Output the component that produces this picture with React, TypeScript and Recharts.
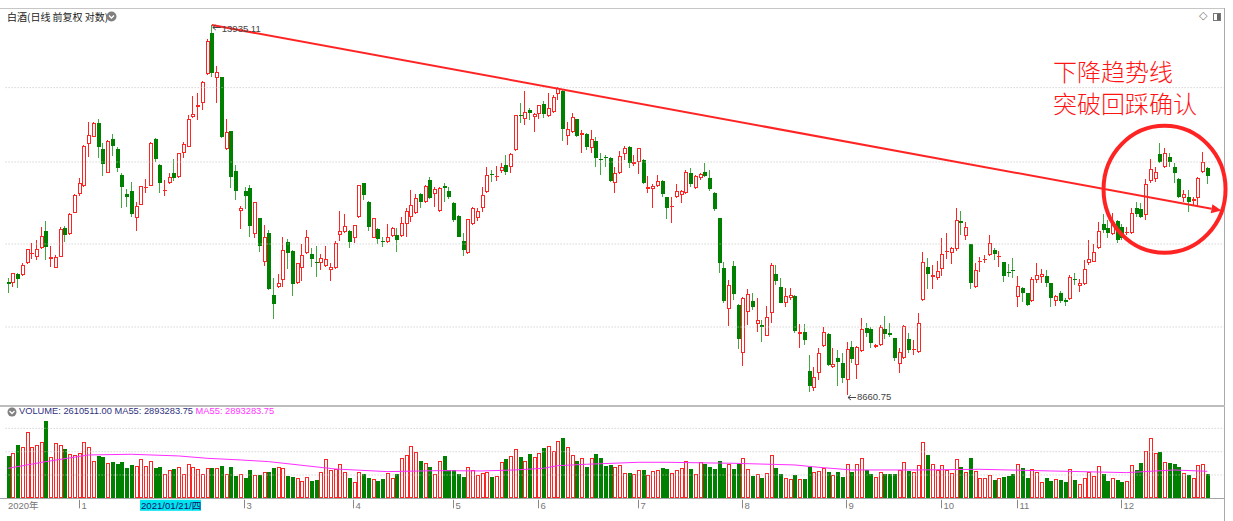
import React from 'react';
import { ComposedChart, Bar, Line, XAxis, YAxis, ReferenceLine, ReferenceDot } from 'recharts';

// ---------- data ----------
// daily candles [open, high, low, close]
const ohlc: number[][] = [
  [10011,10059,9875,9986],[10003,10132,9951,10124],[10115,10124,9930,10055],[10102,10264,10089,10233],[10255,10450,10242,10441],
  [10378,10531,10308,10396],[10334,10567,10299,10441],[10455,10741,10441,10621],[10690,10833,10299,10477],[10308,10486,10202,10343],
  [10198,10365,10189,10343],[10343,10741,10334,10713],[10727,10759,10545,10630],[10644,10936,10635,10922],[10945,11207,10936,11198],
  [11207,11450,11188,11377],[11333,11937,11308,11927],[11952,12305,11764,12091],[12070,12305,12060,12279],[12279,12347,11749,11916],
  [11875,11968,11475,11648],[11524,12019,11514,12009],[12029,12112,11774,11932],[11886,11916,11534,11598],[11485,11514,11007,11318],
  [11207,11279,11021,11164],[11255,11392,10889,10922],[10865,11100,10690,11039],[11053,11328,11049,11328],[11294,11426,11222,11308],
  [11333,11988,11328,11978],[12039,12044,11689,11734],[11638,11648,11231,11367],[11260,11416,11188,11270],[11377,11514,11357,11465],
  [11519,11724,11406,11441],[11455,11824,11445,11814],[11824,11993,11739,11952],[11916,12411,11906,12342],[12374,12719,12358,12422],
  [12535,12763,12331,12567],[12599,12967,12492,12956],[13079,13680,13067,13657],[13798,13935.11,13040,13095],[13012,13225,12599,13112],
  [13029,13040,12044,12070],[11875,12342,11865,12148],[12158,12165,11294,11465],[11548,11633,11125,11260],[10969,11039,10713,11016],
  [11255,11318,10992,11188],[11304,11338,10612,10759],[10644,11100,10590,11096],[10865,10875,10410,10486],[10268,10773,10220,10603],
  [10658,10704,9909,9917],[9846,10059,9545,9732],[9951,10115,9930,10003],[10037,10603,9951,10432],[10545,10576,10176,10387],
  [10423,10432,9833,9986],[9994,10264,9986,10255],[10189,10513,10029,10365],[10387,10704,10378,10612],[10374,10455,10202,10308],
  [10268,10486,10072,10255],[10264,10378,10167,10321],[10224,10486,10211,10308],[10167,10255,10029,10202],[10189,10554,10180,10522],
  [10635,10974,10554,10690],[10681,10927,10658,10764],[10695,10704,10455,10540],[10599,10780,10531,10773],[10880,11347,10870,11338],
  [11367,11377,11125,11198],[11100,11111,10690,10741],[10599,10875,10590,10865],[10713,10727,10513,10581],[10558,10603,10468,10536],
  [10545,10787,10522,10603],[10626,10741,10612,10727],[10635,10727,10410,10567],[10621,10880,10612,10796],[10787,11007,10612,10974],
  [10889,11270,10819,11049],[10936,11212,10927,11149],[11207,11222,11007,11091],[11091,11343,11087,11328],[11416,11465,11140,11149],
  [11207,11308,11030,11289],[10969,11318,10960,11304],[11328,11377,11100,11294],[11255,11318,11140,11164],[11087,11096,10819,10842],
  [10898,10912,10603,10612],[10554,10658,10352,10432],[10387,10856,10378,10851],[10787,11030,10773,11016],[10865,11007,10828,10969],
  [11016,11308,10960,11198],[11236,11613,11222,11485],[11499,11563,11392,11485],[11470,11628,11401,11480],[11548,11663,11524,11613],
  [11638,11789,11490,11539],[11613,11824,11524,11799],[11865,12417,11855,12406],[12417,12599,12279,12401],[12347,12801,12253,12465],
  [12492,12519,12331,12449],[12374,12438,12148,12422],[12433,12572,12347,12567],[12583,12643,12358,12428],[12401,12774,12385,12519],
  [12454,12736,12438,12708],[12752,12861,12654,12845],[12801,12818,12009,12185],[12081,12295,11942,12185],[12148,12438,12122,12385],
  [12342,12347,12060,12081],[12101,12174,11814,12122],[12112,12122,11865,11916],[11891,12174,11814,12034],[12009,12060,11603,11749],
  [11734,11824,11485,11714],[11764,11789,11613,11754],[11749,11759,11392,11401],[11367,11613,11231,11524],[11514,11850,11504,11774],
  [11804,11927,11714,11891],[11906,11927,11598,11663],[11648,11789,11628,11678],[11678,11901,11504,11891],[11714,11724,11357,11367],
  [11279,11480,11222,11318],[11284,11352,11016,11333],[11333,11490,11318,11406],[11401,11416,11173,11207],[11164,11173,10856,11016],
  [11030,11173,10796,11039],[11164,11357,11149,11260],[11198,11270,11087,11255],[11222,11563,11212,11529],[11514,11588,11318,11357],
  [11304,11490,11279,11475],[11441,11524,11416,11504],[11529,11673,11465,11475],[11450,11563,11255,11279],[11231,11246,10969,10997],
  [10865,10875,10124,10264],[10198,10273,9740,9770],[9670,10037,9460,9968],[10220,10290,9782,9854],[9719,9728,9185,9303],
  [9133,9815,8989,9803],[9628,9917,9472,9854],[9770,9875,9657,9699],[9480,9803,9392,9533],[9472,9533,9272,9444],
  [9343,9707,9339,9566],[9616,10255,9493,10233],[10111,10233,9973,10029],[9943,10068,9740,9748],[9748,9930,9699,9833],
  [9811,9930,9782,9841],[9837,9846,9372,9404],[9359,9485,9200,9384],[9392,9485,9232,9291],[8928,9114,8690,8757],
  [8738,8978,8705,8863],[8909,9200,8825,9133],[9224,9444,9212,9392],[9363,9372,8985,9000],[8970,9192,8958,9005],
  [9075,9172,8757,9036],[9024,9133,8787,8852],[8825,9272,8660.75,9180],[9204,9284,9017,9067],[8997,9220,8832,9212],
  [9165,9554,9153,9420],[9432,9501,9331,9372],[9420,9444,9200,9252],[9204,9244,9192,9232],[9232,9472,9220,9444],
  [9420,9583,9299,9363],[9380,9493,9331,9347],[9311,9319,9044,9083],[9009,9192,8909,9153],[9075,9472,9063,9464],
  [9299,9372,9141,9172],[9172,9291,9114,9188],[9145,9616,9141,9493],[9782,10401,9774,10268],[10211,10321,9917,10111],
  [10080,10233,9917,10098],[10059,10290,10037,10158],[10176,10590,10089,10374],[10401,10658,10308,10423],[10387,10477,10246,10455],
  [10441,11007,10423,10842],[10828,10974,10635,10801],[10621,10819,10567,10741],[10508,10513,9917,9994],[9943,10255,9930,10167],
  [10273,10343,10145,10290],[10299,10365,10255,10312],[10365,10635,10352,10522],[10432,10459,10299,10374],[10339,10419,10211,10352],
  [10268,10277,10016,10093],[10141,10242,10080,10128],[10167,10321,10059,10154],[9824,10089,9699,9964],[9930,9951,9761,9875],
  [9866,9875,9707,9719],[9774,10080,9761,10046],[10037,10264,9994,10102],[10080,10176,9994,10111],[10089,10167,9951,9994],
  [9994,10003,9699,9803],[9774,9846,9711,9833],[9875,9900,9740,9770],[9782,9803,9707,9761],[9791,10098,9782,10080],
  [10046,10124,9973,10037],[9964,10046,9888,10003],[9986,10299,9973,10176],[10255,10567,10233,10308],[10277,10513,10268,10401],
  [10455,10819,10441,10690],[10787,10927,10667,10704],[10727,10842,10590,10658],[10649,10936,10635,10819],[10828,10842,10531,10567],
  [10750,10787,10567,10590],[10658,10750,10635,10681],[10658,11016,10649,10945],[11007,11100,10889,10927],[10992,11087,10865,10889],
  [10912,11426,10842,11352],[11406,11724,11367,11573],[11431,11613,11392,11539],[11799,11978,11663,11689],[11613,11891,11588,11814],
  [11764,11824,11613,11678],[11613,11663,11367,11524],[11436,11450,11149,11173],[11159,11270,11100,11212],[11164,11270,10960,11100],
  [11111,11173,11053,11135],[11159,11465,11030,11450],[11529,11840,11514,11689],[11598,11613,11352,11475],
];

// daily volume
const volume: number[] = [
  4543000,4900000,5723000,5473000,7082000,5544000,5723000,6081000,8299000,4471000,
  5902000,5723000,5258000,4722000,4650000,4900000,6081000,5544000,4042000,4543000,
  4400000,3827000,3935000,3649000,3935000,3219000,3577000,3470000,4185000,3470000,
  4042000,3219000,3327000,2611000,3040000,3112000,3327000,2611000,3649000,3327000,
  3112000,2611000,3219000,3219000,3219000,3505000,2611000,3327000,2432000,2611000,
  2218000,3040000,2504000,2504000,2862000,2862000,3219000,3398000,3219000,2432000,
  2325000,2146000,1860000,2325000,1860000,1967000,2862000,4185000,3040000,3112000,
  3649000,2862000,2218000,1789000,2790000,2611000,2146000,2039000,1860000,2039000,
  2754000,2146000,2611000,4364000,4650000,5652000,5008000,4006000,3827000,3327000,
  2575000,4006000,4579000,3040000,3040000,2575000,2325000,3398000,3040000,2504000,
  2683000,2862000,2254000,2397000,3935000,4185000,4543000,5258000,4471000,4006000,
  4757000,4400000,4900000,5437000,5616000,5079000,6152000,6510000,5473000,4650000,
  4042000,4292000,3398000,4292000,4757000,4292000,3505000,3577000,3327000,3541000,
  2683000,2683000,2611000,3040000,3040000,2504000,2933000,3040000,3219000,3148000,
  2683000,3040000,3219000,4042000,3148000,2575000,3935000,3649000,3398000,3148000,
  4042000,3219000,3684000,3148000,3649000,4292000,3112000,2397000,2611000,2218000,
  2683000,4650000,3219000,2575000,2218000,2039000,2468000,2039000,2039000,3398000,
  2790000,2933000,3219000,2862000,2504000,2862000,2325000,3684000,2862000,3684000,
  4292000,3040000,2575000,2254000,2790000,2575000,2611000,2575000,3040000,3935000,
  2969000,2790000,3577000,6081000,4650000,3684000,3040000,3577000,3040000,2754000,
  4185000,3327000,2790000,4292000,2933000,2146000,2146000,2504000,1967000,2218000,
  2325000,2432000,2575000,3684000,3291000,2218000,3112000,2862000,1789000,2218000,
  1896000,2039000,1967000,1789000,3112000,1967000,1538000,2146000,2790000,2397000,
  3470000,2611000,1896000,2146000,1967000,1789000,1896000,3541000,3040000,3827000,
  5079000,6439000,4900000,4936000,3935000,3827000,3684000,3327000,2683000,2504000,
  2218000,3577000,3684000,2610511,
];

// MA55 of volume, read at points along the line [candle index, value]
const ma55Points: number[][] = [
  [0,3219000],[8,3935000],[17,4650000],[26,4722000],[36,4543000],[42,4292000],[49,4114000],[55,3935000],
  [69,3148000],[80,2862000],[91,2969000],[100,2933000],[107,3040000],[113,3219000],[116,3505000],[122,3649000],
  [133,3863000],[139,3863000],[153,3756000],[166,3577000],[171,3327000],[178,3040000],[192,3040000],[205,3112000],
  [220,2933000],[236,2754000],[246,3040000],[253,2893283.75],
];

// x-axis labels: first candle of each month
const monthTicks: { index: number; label: string }[] = [
  { index: 0, label: '2020年' }, { index: 15, label: '1' }, { index: 50, label: '3' }, { index: 73, label: '4' },
  { index: 94, label: '5' }, { index: 112, label: '6' }, { index: 133, label: '7' }, { index: 155, label: '8' },
  { index: 177, label: '9' }, { index: 197, label: '10' }, { index: 213, label: '11' }, { index: 235, label: '12' },
];
const cursorTick = { index: 28, label: '2021/01/21/四' };

const extraSlots = 3;
const peak = { index: 43, value: 13935.11 };
const trough = { index: 177, value: 8660.75 };
const trendEnd = { index: 256, value: 10975 };
const circleCenter = { index: 244, value: 11281 };
const priceDomain = [8601, 14025];
const priceGrid = [12856, 11683, 10513, 9448];
const volumeDomain = [0, 9000000];
const volumeGrid = [2500000, 5000000, 7500000];
const lastVolume = '2610511.00';
const lastMA = '2893283.75';

// ---------- build table ----------
const maMap = new Map<number, number>(ma55Points.map((p) => [p[0], p[1]] as [number, number]));
const rows = Array.from({ length: ohlc.length + extraSlots }, (_, i) => {
  const c = ohlc[i];
  const ma = maMap.has(i) ? maMap.get(i)! : null;
  return c
    ? { idx: i, open: c[0], high: c[1], low: c[2], close: c[3], vol: volume[i], ma }
    : { idx: i, ma };
});

const RED = '#ff2424';
const GREEN = '#008000';
const GREEN_WICK = '#43a843';
const MARGIN_L = 5.6;
const MARGIN_R = 9.2;

function Candle(props: any) {
  const { x, y, width, height, payload } = props;
  if (!payload || payload.open == null) return null;
  const top = Math.min(y, y + height);
  const bot = Math.max(y, y + height);
  const lh = Math.log(payload.high);
  const ll = Math.log(payload.low);
  const yOf = (v: number) => (lh === ll ? top : top + ((lh - Math.log(v)) / (lh - ll)) * (bot - top));
  const X = Math.floor(x + width / 2) + 0.5;
  const up = payload.close >= payload.open;
  const yo = yOf(payload.open);
  const yc = yOf(payload.close);
  const b1 = Math.round(Math.min(yo, yc));
  const b2 = Math.round(Math.max(yo, yc));
  const hTop = Math.round(top);
  const hBot = Math.round(bot);
  if (up) {
    return (
      <g>
        <line x1={X} x2={X} y1={hTop} y2={hBot} stroke={RED} strokeWidth={1} />
        {b2 - b1 >= 2 ? (
          <rect x={X - 1} y={b1 + 0.5} width={3} height={b2 - b1 - 1} fill="#fff" stroke={RED} strokeWidth={1} />
        ) : (
          <line x1={X - 1.5} x2={X + 2.5} y1={b1 + 0.5} y2={b1 + 0.5} stroke={RED} strokeWidth={1} />
        )}
      </g>
    );
  }
  return (
    <g>
      <line x1={X} x2={X} y1={hTop} y2={hBot} stroke={GREEN_WICK} strokeWidth={1} />
      <rect x={X - 1.5} y={b1} width={4} height={Math.max(b2 - b1, 1)} fill={GREEN} />
    </g>
  );
}

function VolBar(props: any) {
  const { x, y, width, height, payload } = props;
  if (!payload || payload.vol == null) return null;
  const X = Math.floor(x + width / 2) + 0.5;
  const t = Math.round(y);
  const b = Math.round(y + height);
  const up = payload.close >= payload.open;
  if (up) {
    return <rect x={X - 1} y={t + 0.5} width={3} height={Math.max(b - t - 1, 0)} fill="#fff" stroke={RED} strokeWidth={1} />;
  }
  return <rect x={X - 1.5} y={t} width={4} height={Math.max(b - t, 1)} fill={GREEN} />;
}

function TrendArrow(p: any) {
  const { x1, y1, x2, y2 } = p;
  const ang = Math.atan2(y2 - y1, x2 - x1);
  const L = 10;
  const Wd = 4.5;
  const bx = x2 - L * Math.cos(ang);
  const by = y2 - L * Math.sin(ang);
  const nx = -Math.sin(ang);
  const ny = Math.cos(ang);
  return (
    <g>
      <line x1={x1} y1={y1} x2={bx} y2={by} stroke={RED} strokeWidth={2} />
      <polygon points={`${x2},${y2} ${bx + nx * Wd},${by + ny * Wd} ${bx - nx * Wd},${by - ny * Wd}`} fill={RED} />
    </g>
  );
}

function CircleMark(p: any) {
  return <ellipse cx={p.cx} cy={p.cy} rx={61} ry={63.5} fill="none" stroke={RED} strokeWidth={4} />;
}

function makeExtremeLabel(text: string, dy: number) {
  return (p: any) => {
    const { cx, cy } = p;
    const ay = Math.round(cy + 2) + 0.5;
    return (
      <g>
        <line x1={cx + 1} y1={ay} x2={cx + 9} y2={ay} stroke="#444" strokeWidth={1} />
        <polyline points={`${cx + 4},${ay - 2.5} ${cx + 1},${ay} ${cx + 4},${ay + 2.5}`} fill="none" stroke="#444" strokeWidth={1} />
        <text x={cx + 10} y={cy + dy} fontSize={9.5} fill="#444" fontFamily="'Liberation Sans', Arial, sans-serif">{text}</text>
      </g>
    );
  };
}

const tickLabelMap = new Map<number, string>(monthTicks.map((m) => [m.index, m.label] as [number, string]));

function XTick(p: any) {
  const i = Number(p.payload.value);
  const X = Math.floor(p.x) + 0.5;
  const y0 = p.y;
  if (i === cursorTick.index) {
    return (
      <g>
        <rect x={Math.floor(p.x)} y={y0 + 1.5} width={61} height={11} fill="#00e4ef" />
        <text x={Math.floor(p.x) + 1} y={y0 + 10.5} fontSize={9.6} fill="#10106a" fontFamily="'Liberation Sans', 'Noto Sans CJK SC', sans-serif">{cursorTick.label}</text>
      </g>
    );
  }
  const label = tickLabelMap.get(i) || '';
  if (i === 0) {
    return <text x={p.x} y={y0 + 10.5} fontSize={9.5} fill="#777" fontFamily="'Liberation Sans', 'Noto Sans CJK SC', sans-serif">{label}</text>;
  }
  return (
    <g>
      <line x1={X} x2={X} y1={y0 + 1.5} y2={y0 + 10} stroke="#888" strokeWidth={1} />
      <text x={X + 2} y={y0 + 10.5} fontSize={9.5} fill="#777" fontFamily="'Liberation Sans', 'Noto Sans CJK SC', sans-serif">{label}</text>
    </g>
  );
}

const xTicks = [...monthTicks.map((m) => m.index), cursorTick.index].sort((a, b) => a - b);

function Chevron({ left, top, r }: { left: number; top: number; r: number }) {
  return (
    <svg style={{ position: 'absolute', left, top }} width={r * 2 + 1} height={r * 2 + 1}>
      <circle cx={r + 0.5} cy={r + 0.5} r={r} fill="#808080" />
      <polyline points={`${r - 2},${r - 0.5} ${r + 0.5},${r + 2} ${r + 3},${r - 0.5}`} fill="none" stroke="#fff" strokeWidth={1.3} />
    </svg>
  );
}

export default function App() {
  return (
    <div style={{ position: 'absolute', left: 0, top: 0, width: 1233, height: 521, background: '#fff', overflow: 'hidden' }}>
      {/* frame */}
      <div style={{ position: 'absolute', left: 0, top: 8, width: 1225, height: 1, background: '#c6c6c6' }} />
      <div style={{ position: 'absolute', left: 1224, top: 8, width: 1, height: 513, background: '#a9a9a9' }} />
      <div style={{ position: 'absolute', left: 0, top: 405, width: 1225, height: 2, background: '#bdbdbd' }} />
      <div style={{ position: 'absolute', left: 0, top: 498, width: 1225, height: 1, background: '#a4a4a4' }} />

      {/* price panel */}
      <div style={{ position: 'absolute', left: 0, top: 0 }}>
        <ComposedChart width={1233} height={405} data={rows} margin={{ top: 20, right: MARGIN_R, bottom: 5, left: MARGIN_L }} style={{ overflow: 'visible' }}>
          <XAxis dataKey="idx" type="category" hide />
          <YAxis hide type="number" scale="log" domain={priceDomain} allowDataOverflow />
          {priceGrid.map((v) => (
            <ReferenceLine key={v} y={v} stroke="#c2c2c2" strokeDasharray="1 2" />
          ))}
          <Bar dataKey={(d: any) => (d.high != null ? [d.low, d.high] : null)} shape={Candle} isAnimationActive={false} />
          <ReferenceLine
            segment={[{ x: peak.index, y: peak.value }, { x: trendEnd.index, y: trendEnd.value }]}
            stroke={RED}
            strokeWidth={2}
            shape={TrendArrow}
            ifOverflow="visible"
          />
          <ReferenceDot x={circleCenter.index} y={circleCenter.value} r={0} shape={CircleMark} ifOverflow="visible" />
          <ReferenceDot x={peak.index} y={peak.value} r={0} shape={makeExtremeLabel(peak.value.toFixed(2), 7.5)} ifOverflow="visible" />
          <ReferenceDot x={trough.index} y={trough.value} r={0} shape={makeExtremeLabel(trough.value.toFixed(2), 5.5)} ifOverflow="visible" />
        </ComposedChart>
      </div>

      {/* volume panel */}
      <div style={{ position: 'absolute', left: 0, top: 400 }}>
        <ComposedChart width={1233} height={121} data={rows} margin={{ top: 14.4, right: MARGIN_R, bottom: 0, left: MARGIN_L }}>
          <XAxis
            dataKey="idx"
            type="category"
            height={22.7}
            ticks={xTicks}
            interval={0}
            tick={XTick}
            tickLine={false}
            axisLine={false}
            tickSize={0}
            tickMargin={0}
          />
          <YAxis hide type="number" domain={volumeDomain} allowDataOverflow />
          {volumeGrid.map((v) => (
            <ReferenceLine key={v} y={v} stroke="#c2c2c2" strokeDasharray="1 2" />
          ))}
          <Bar dataKey="vol" shape={VolBar} isAnimationActive={false} />
          <Line dataKey="ma" stroke="#ff2cff" strokeWidth={1} dot={false} connectNulls isAnimationActive={false} />
        </ComposedChart>
      </div>

      {/* titles */}
      <div style={{ position: 'absolute', left: 7, top: 11, fontSize: 10, lineHeight: '11px', color: '#222', fontFamily: "'Noto Sans CJK SC', sans-serif", whiteSpace: 'nowrap' }}>
        白酒(日线 前复权 对数)
      </div>
      <Chevron left={106} top={11} r={5} />
      <div style={{ position: 'absolute', left: 1199, top: 10, fontSize: 11, lineHeight: '12px', color: '#777', fontFamily: "'DejaVu Sans', sans-serif" }}>◇</div>
      <div style={{ position: 'absolute', left: 1213, top: 13, width: 8, height: 8, border: '1px solid #777', boxSizing: 'border-box' }}>
        <div style={{ position: 'absolute', right: 0, top: 0, width: 3, height: 6, background: '#666' }} />
      </div>

      <Chevron left={7} top={407} r={4.5} />
      <div style={{ position: 'absolute', left: 19, top: 406, fontSize: 9.3, lineHeight: '11px', fontFamily: "'Liberation Sans', Arial, sans-serif", whiteSpace: 'nowrap' }}>
        <span style={{ color: '#30307e' }}>{`VOLUME: ${lastVolume} MA55: ${lastMA}`}</span>
        <span style={{ color: '#ff33ff' }}>{` MA55: ${lastMA}`}</span>
      </div>

      {/* annotation */}
      <div style={{ position: 'absolute', left: 1053, top: 58, fontSize: 24, lineHeight: '26px', color: '#ff1414', fontFamily: "'Noto Sans CJK SC', sans-serif", fontWeight: 300, whiteSpace: 'nowrap' }}>
        下降趋势线
      </div>
      <div style={{ position: 'absolute', left: 1053, top: 90, fontSize: 24, lineHeight: '26px', color: '#ff1414', fontFamily: "'Noto Sans CJK SC', sans-serif", fontWeight: 300, whiteSpace: 'nowrap' }}>
        突破回踩确认
      </div>
    </div>
  );
}
